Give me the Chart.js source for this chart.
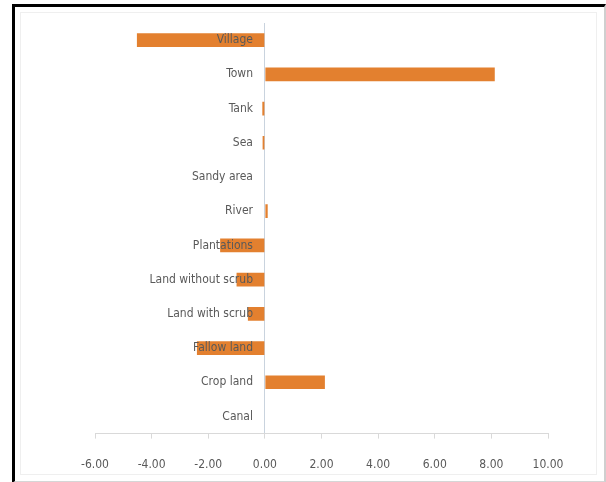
<!DOCTYPE html>
<html>
<head>
<meta charset="utf-8">
<script src="https://cdn.jsdelivr.net/npm/chart.js@4/dist/chart.umd.min.js"></script>
<style>
  html, body { margin: 0; padding: 0; background: #fff; }
  body { width: 606px; height: 482px; position: relative; overflow: hidden; }
  #frame { position: absolute; left: 12px; top: 4px; width: 589px; height: 474px;
           border-left: 3px solid #000; border-top: 3px solid #000;
           border-right: 2px solid #cfcfcf; border-bottom: 2px solid #d6d6d6; }
  #inner { position: absolute; left: 20px; top: 12px; width: 575px; height: 461px;
           border: 1px solid #efefef; }
  #c { position: absolute; left: 0; top: 0; }
</style>
</head>
<body>
<div id="frame"></div>
<div id="inner"></div>
<canvas id="c" width="606" height="482"></canvas>
<script>
const categories = ["Village", "Town", "Tank", "Sea", "Sandy area", "River", "Plantations",
  "Land without scrub", "Land with scrub", "Fallow land", "Crop land", "Canal"];
const values = [-4.52, 8.12, -0.09, -0.08, 0, 0.1, -1.58, -1.0, -0.6, -2.4, 2.12, 0];
const xTicks = [-6, -4, -2, 0, 2, 4, 6, 8, 10];

const font = { family: "'Liberation Sans Narrow', 'DejaVu Sans Condensed', 'Liberation Sans', sans-serif", size: 12 };

new Chart(document.getElementById('c'), {
  type: 'bar',
  data: {
    labels: categories,
    datasets: [{
      data: values,
      backgroundColor: '#E3802F',
      borderWidth: 0,
      barPercentage: 0.4,
      categoryPercentage: 1.0
    }]
  },
  options: {
    indexAxis: 'y',
    responsive: false,
    animation: false,
    layout: { padding: { left: 95, right: 58, top: 23, bottom: -9 } },
    plugins: { legend: { display: false }, tooltip: { enabled: false } },
    scales: {
      x: {
        type: 'linear',
        min: -6, max: 10,
        afterBuildTicks: (axis) => { axis.ticks = xTicks.map(v => ({ value: v })); },
        grid: {
          drawOnChartArea: true, drawTicks: true, tickLength: 5,
          color: (ctx) => (ctx.tick && ctx.tick.value === 0) ? '#c9d3de' : 'rgba(0,0,0,0)',
          tickColor: '#d9d9d9'
        },
        border: { color: '#d9d9d9', width: 1 },
        ticks: { color: '#595959', font: font, padding: 19, callback: (v) => Number(v).toFixed(2) }
      },
      y: {
        type: 'category',
        position: { x: -0.42 },
        grid: { display: false },
        border: { display: false },
        ticks: { color: '#595959', font: font, padding: 0, z: 1 }
      }
    }
  }
});
</script>
</body>
</html>
